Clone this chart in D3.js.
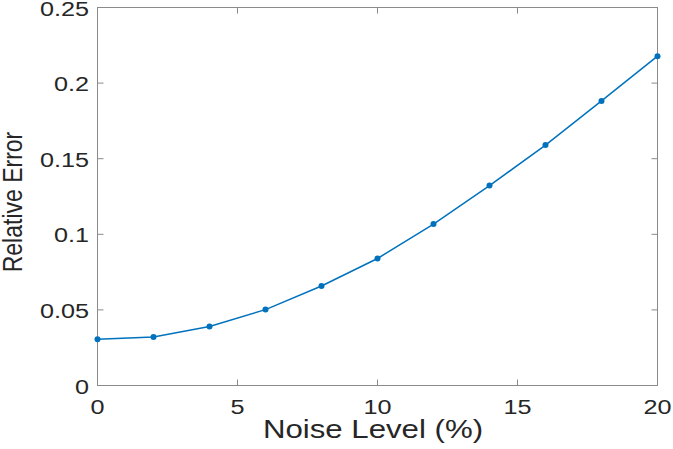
<!DOCTYPE html>
<html><head><meta charset="utf-8">
<script src="https://cdn.jsdelivr.net/npm/d3@7"></script>
<style>body{margin:0;background:#fff}svg{display:block}</style>
</head><body>
<svg id="c" width="673" height="449"></svg>
<script>
const noiseLevels = [0, 2, 4, 6, 8, 10, 12, 14, 16, 18, 20];
const relErrors = [0.0306, 0.0321, 0.0390, 0.0502, 0.0658, 0.0840, 0.1068, 0.1322, 0.1590, 0.1882, 0.2178];
const xTicks = [0, 5, 10, 15, 20];
const yTicks = [0, 0.05, 0.1, 0.15, 0.2, 0.25];
const yTickLabels = ["0", "0.05", "0.1", "0.15", "0.2", "0.25"];
const xLabel = "Noise Level (%)";
const yLabel = "Relative Error";

const svg = d3.select("#c");
const L = 97.5, R = 657.5, T = 7.5, B = 385.5;
const x = d3.scaleLinear().domain([0, 20]).range([L, R]);
const y = d3.scaleLinear().domain([0, 0.25]).range([B, T]);
const axisColor = "#8a8a8a", textColor = "#262626";
const font = "'Liberation Sans', Arial, Helvetica, sans-serif";
const sx = 1.2, tl = 6;

// box
svg.append("rect").attr("x", L).attr("y", T).attr("width", R - L).attr("height", B - T)
  .attr("fill", "none").attr("stroke", axisColor).attr("stroke-width", 1);

// ticks
const g = svg.append("g").attr("stroke", axisColor).attr("stroke-width", 1);
xTicks.forEach(t => {
  g.append("line").attr("x1", x(t)).attr("x2", x(t)).attr("y1", B).attr("y2", B - tl);
  g.append("line").attr("x1", x(t)).attr("x2", x(t)).attr("y1", T).attr("y2", T + tl);
});
yTicks.forEach(t => {
  g.append("line").attr("x1", L).attr("x2", L + tl).attr("y1", y(t)).attr("y2", y(t));
  g.append("line").attr("x1", R).attr("x2", R - tl).attr("y1", y(t)).attr("y2", y(t));
});

// tick labels
xTicks.forEach(t => {
  svg.append("text").attr("transform", `translate(${x(t)},${414}) scale(${sx},1)`)
    .attr("text-anchor", "middle").attr("font-family", font).attr("font-size", 21)
    .attr("fill", textColor).text(String(t));
});
yTicks.forEach((t, i) => {
  svg.append("text").attr("transform", `translate(${L - 8.5},${y(t) + 8}) scale(${sx},1)`)
    .attr("text-anchor", "end").attr("font-family", font).attr("font-size", 21)
    .attr("fill", textColor).text(yTickLabels[i]);
});

// axis labels
svg.append("text").attr("transform", `translate(373,437.5) scale(${sx},1)`)
  .attr("text-anchor", "middle").attr("font-family", font).attr("font-size", 26)
  .attr("fill", textColor).text(xLabel);
svg.append("text").attr("transform", `translate(22,202) scale(${sx},1) rotate(-90)`)
  .attr("text-anchor", "middle").attr("font-family", font).attr("font-size", 23)
  .attr("fill", textColor).text(yLabel);

// line
const data = noiseLevels.map((n, i) => ({n, e: relErrors[i]}));
svg.append("path").datum(data)
  .attr("d", d3.line().x(d => x(d.n)).y(d => y(d.e)))
  .attr("fill", "none").attr("stroke", "#0072BD").attr("stroke-width", 1.5);
svg.selectAll("circle.pt").data(data).enter().append("circle")
  .attr("cx", d => x(d.n)).attr("cy", d => y(d.e)).attr("r", 3)
  .attr("fill", "#0072BD");
</script>
</body></html>
